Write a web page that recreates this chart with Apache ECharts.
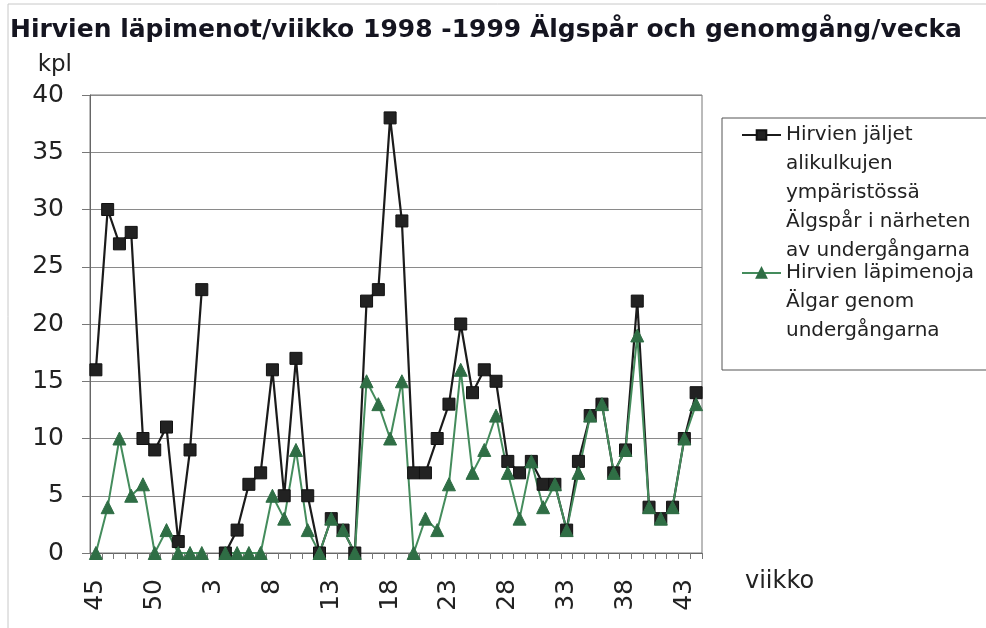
<!DOCTYPE html>
<html>
<head>
<meta charset="utf-8">
<script src="https://cdn.jsdelivr.net/npm/echarts@6/dist/echarts.min.js"></script>
<style>
html,body{margin:0;padding:0;background:#fff;}
#chart{width:986px;height:628px;}
</style>
</head>
<body>
<div id="chart"></div>
<script>
const weeks = ['45','46','47','48','49','50','51','52','1','2','3','4','5','6','7','8','9','10','11','12','13','14','15','16','17','18','19','20','21','22','23','24','25','26','27','28','29','30','31','32','33','34','35','36','37','38','39','40','41','42','43','44'];
const tracks = [16,30,27,28,10,9,11,1,9,23,null,0,2,6,7,16,5,17,5,0,3,2,0,22,23,38,29,7,7,10,13,20,14,16,15,8,7,8,6,6,2,8,12,13,7,9,22,4,3,4,10,14];
const crossings = [0,4,10,5,6,0,2,0,0,0,null,0,0,0,0,5,3,9,2,0,3,2,0,15,13,10,15,0,3,2,6,16,7,9,12,7,3,8,4,6,2,7,12,13,7,9,19,4,3,4,10,13];
const yTicks = [0,5,10,15,20,25,30,35,40];

const nameTracks = 'Hirvien jäljet\nalikulkujen\nympäristössä\nÄlgspår i närheten\nav undergångarna';
const nameCross = 'Hirvien läpimenoja\nÄlgar genom\nundergångarna';

const chart = echarts.init(document.getElementById('chart'), null, {renderer:'canvas'});
const FONT = 'DejaVu Sans, Liberation Sans, Arial, sans-serif';
const LH = 29;
chart.setOption({
  animation:false,
  backgroundColor:'#fff',
  textStyle:{fontFamily:FONT},
  title:{
    text:'Hirvien läpimenot/viikko 1998 -1999 Älgspår och genomgång/vecka',
    left:10, top:18, padding:0,
    textStyle:{fontFamily:FONT, fontSize:25, fontWeight:'bold', color:'#151520'}
  },
  graphic:[
    {type:'rect', shape:{x:8,y:4,width:1000,height:700}, style:{fill:'none', stroke:'#c8c8c8', lineWidth:1}, silent:true},
    {type:'rect', shape:{x:722,y:118,width:300,height:252}, style:{fill:'none', stroke:'#555', lineWidth:1}, silent:true}
  ],
  legend:[
    {
      data:[nameTracks], left:741, top:135 - 4.5*LH, padding:0,
      itemWidth:39, itemHeight:12,
      formatter: n => '\n\n\n\n' + n,
      textStyle:{fontFamily:FONT, fontSize:20, lineHeight:LH, color:'#222'}
    },
    {
      data:[nameCross], left:741, top:273 - 2.5*LH, padding:0,
      itemWidth:39, itemHeight:12,
      formatter: n => '\n\n' + n,
      textStyle:{fontFamily:FONT, fontSize:20, lineHeight:LH, color:'#222'}
    }
  ],
  grid:{left:90, right:284, top:95, bottom:75, show:true, borderColor:'#777', borderWidth:1, containLabel:false},
  xAxis:{
    type:'category', data:weeks, boundaryGap:true,
    name:'viikko', nameLocation:'end', nameGap:43,
    nameTextStyle:{fontFamily:FONT, fontSize:24, color:'#222', verticalAlign:'top', align:'left', padding:[17,0,0,0]},
    axisLine:{show:true, lineStyle:{color:'#666', width:1}},
    axisTick:{show:true, interval:0, length:6, lineStyle:{color:'#777'}},
    axisLabel:{interval:4, rotate:90, margin:26, fontFamily:FONT, fontSize:25, color:'#222'},
    splitLine:{show:false}
  },
  yAxis:{
    type:'value', min:0, max:40, interval:5,
    name:'kpl', nameLocation:'end', nameGap:18,
    nameTextStyle:{fontFamily:FONT, fontSize:23, color:'#222', align:'right', padding:[0,18,0,0]},
    axisLine:{show:true, lineStyle:{color:'#666', width:1}},
    axisTick:{show:true, length:8, lineStyle:{color:'#777'}},
    axisLabel:{margin:26, fontFamily:FONT, fontSize:25, color:'#222', formatter: v => yTicks.includes(v) ? String(v) : ''},
    splitLine:{show:true, lineStyle:{color:'#8a8a8a', width:1}}
  },
  series:[
    {
      name:nameTracks, type:'line', data:tracks, connectNulls:false,
      showAllSymbol:true,
      symbol:'rect', symbolSize:12,
      lineStyle:{color:'#1b1b1b', width:2.2},
      itemStyle:{color:'#222', borderColor:'#111', borderWidth:1}
    },
    {
      name:nameCross, type:'line', data:crossings, connectNulls:false,
      showAllSymbol:true,
      symbol:'triangle', symbolSize:13,
      lineStyle:{color:'#448c5c', width:2},
      itemStyle:{color:'#2f6e45', borderColor:'#2f6e45', borderWidth:1}
    }
  ]
});
</script>
</body>
</html>
